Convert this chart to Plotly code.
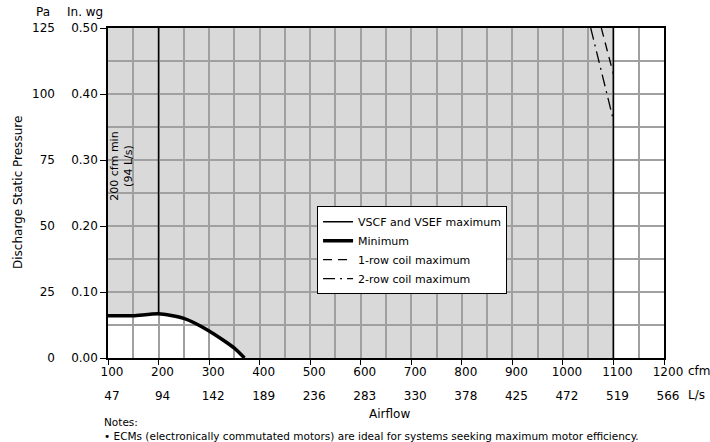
import plotly.graph_objects as go

# ---- data ----
cfm_ticks = [100, 200, 300, 400, 500, 600, 700, 800, 900, 1000, 1100, 1200]
ls_labels = ["47", "94", "142", "189", "236", "283", "330", "378", "425", "472", "519", "566"]
inwg_ticks = [0.0, 0.1, 0.2, 0.3, 0.4, 0.5]
inwg_labels = ["0.00", "0.10", "0.20", "0.30", "0.40", "0.50"]
pa_ticks = [0, 25, 50, 75, 100, 125]

min_cfm = [100, 150, 200, 250, 300, 350, 370]
min_inwg = [0.064, 0.064, 0.067, 0.060, 0.041, 0.015, 0.0]

min_airflow_cfm = 200
vscf_max_cfm = 1100
p_max = 0.5

row1_cfm = [1076, 1100]
row1_inwg = [0.50, 0.43]
row2_cfm = [1055, 1100]
row2_inwg = [0.50, 0.36]

FONT = "DejaVu Sans"

fig = go.Figure()

# grey operating region (below gridlines)
path = "M {},{} ".format(min_cfm[0], min_inwg[0])
path += " ".join("L {},{}".format(x, y) for x, y in zip(min_cfm[1:], min_inwg[1:]))
path += " L {},0 L {},{} L {},{} Z".format(vscf_max_cfm, vscf_max_cfm, p_max, min_cfm[0], p_max)
fig.add_shape(type="path", path=path, xref="x", yref="y", layer="below",
              fillcolor="#d9d9d9", line=dict(width=0))

min_at_200 = min_inwg[min_cfm.index(min_airflow_cfm)]
fig.add_trace(go.Scatter(x=[min_airflow_cfm, min_airflow_cfm], y=[min_at_200, p_max],
                         mode="lines", line=dict(color="black", width=1.5),
                         showlegend=False, hoverinfo="skip"))
fig.add_trace(go.Scatter(x=[vscf_max_cfm, vscf_max_cfm], y=[0, p_max], mode="lines",
                         line=dict(color="black", width=1.5),
                         name="VSCF and VSEF maximum"))
fig.add_trace(go.Scatter(x=min_cfm, y=min_inwg, mode="lines",
                         line=dict(color="black", width=3.5, shape="spline", smoothing=0.6),
                         name="Minimum"))
fig.add_trace(go.Scatter(x=row1_cfm, y=row1_inwg, mode="lines",
                         line=dict(color="black", width=1.3, dash="9px,6px"),
                         name="1-row coil maximum"))
fig.add_trace(go.Scatter(x=row2_cfm, y=row2_inwg, mode="lines",
                         line=dict(color="black", width=1.3, dash="12px,5px,2px,5px"),
                         name="2-row coil maximum"))
# L/s axis carrier and Pa axis carrier (invisible)
fig.add_trace(go.Scatter(x=[None], y=[None], xaxis="x2", yaxis="y", showlegend=False, hoverinfo="skip"))
fig.add_trace(go.Scatter(x=[None], y=[None], xaxis="x", yaxis="y2", showlegend=False, hoverinfo="skip"))

grid = "#a0a0a0"
fig.update_layout(
    width=710, height=442,
    margin=dict(l=108, r=46, t=28, b=84),
    paper_bgcolor="white", plot_bgcolor="white",
    font=dict(family=FONT, size=12, color="black"),
    xaxis=dict(range=[100, 1200], tickvals=cfm_ticks, ticktext=[str(v) for v in cfm_ticks],
               showgrid=True, gridcolor=grid, gridwidth=1.5,
               minor=dict(dtick=50, showgrid=True, gridcolor=grid, gridwidth=1.5),
               showline=True, linecolor="black", linewidth=1.5, mirror=True,
               ticks="outside", ticklen=5, tickcolor="black", zeroline=False,
               ticklabelshift=4, ticklabelstandoff=-3),
    xaxis2=dict(range=[100, 1200], overlaying="x", anchor="y", side="bottom",
                tickvals=cfm_ticks, ticktext=ls_labels, showgrid=False, showline=False,
                ticks="", zeroline=False, ticklabelstandoff=29, ticklabelshift=4),
    yaxis=dict(range=[0, 0.5], tickvals=inwg_ticks, ticktext=inwg_labels,
               showgrid=True, gridcolor=grid, gridwidth=1.5,
               minor=dict(dtick=0.05, showgrid=True, gridcolor=grid, gridwidth=1.5),
               showline=True, linecolor="black", linewidth=1.5, mirror=True,
               ticks="outside", ticklen=6, tickcolor="black", zeroline=False),
    yaxis2=dict(range=[0, 125], overlaying="y", anchor="free", position=0, side="left",
                tickvals=pa_ticks, showgrid=False, showline=False, ticks="",
                zeroline=False, ticklabelstandoff=53),
    legend=dict(x=0.376, y=0.46, xanchor="left", yanchor="top",
                bgcolor="white", bordercolor="black", borderwidth=1,
                font=dict(family=FONT, size=11, color="black")),
    showlegend=True,
)

anns = [
    dict(text="Pa", x=43, y=12),
    dict(text="In. wg", x=85, y=12),
]
for a in anns:
    fig.add_annotation(text=a["text"], xref="paper", yref="paper",
                       x=(a["x"] - 108) / 556, y=(358 - a["y"]) / 330,
                       showarrow=False, xanchor="center", yanchor="middle",
                       font=dict(size=12))
fig.add_annotation(text="Discharge Static Pressure", xref="paper", yref="paper",
                   x=(18 - 108) / 556, y=0.5, textangle=-90, showarrow=False,
                   xanchor="center", yanchor="middle", font=dict(size=12))
fig.add_annotation(text="Airflow", xref="paper", yref="paper",
                   x=(389 - 108) / 556, y=(358 - 414) / 330, showarrow=False,
                   xanchor="center", yanchor="middle", font=dict(size=12))
fig.add_annotation(text="cfm", xref="paper", yref="paper",
                   x=(686 - 108) / 556, y=(358 - 371) / 330, showarrow=False,
                   xanchor="left", yanchor="middle", font=dict(size=12))
fig.add_annotation(text="L/s", xref="paper", yref="paper",
                   x=(686 - 108) / 556, y=(358 - 395) / 330, showarrow=False,
                   xanchor="left", yanchor="middle", font=dict(size=12))
fig.add_annotation(text="200 cfm min<br>(94 L/s)", xref="x", yref="y",
                   x=126, y=0.29, textangle=-90, showarrow=False,
                   xanchor="center", yanchor="middle", font=dict(size=11))
fig.add_annotation(text="Notes:<br>• ECMs (electronically commutated motors) are ideal for systems seeking maximum motor efficiency.",
                   xref="paper", yref="paper", x=(102 - 108) / 556, y=(358 - 414) / 330,
                   showarrow=False, xanchor="left", yanchor="top", align="left",
                   font=dict(size=10.5))

fig.write_html("out.html", config={"displayModeBar": False},
               post_script="document.body.style.margin='0';")
